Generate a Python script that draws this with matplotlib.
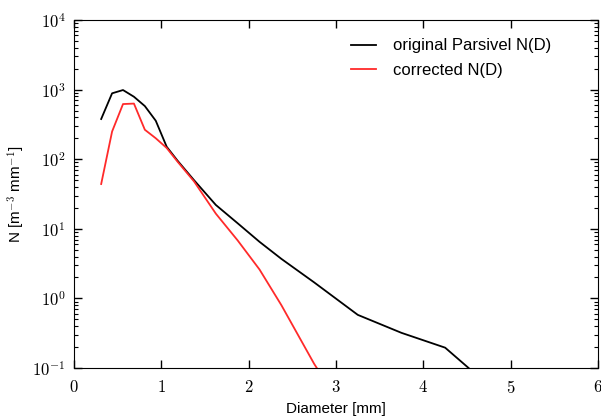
import math
import matplotlib
matplotlib.use('Agg')
import matplotlib.pyplot as plt
from matplotlib.ticker import FuncFormatter, LogLocator, NullFormatter

plt.rcParams['font.family'] = ['Liberation Sans', 'DejaVu Sans']
plt.rcParams['mathtext.fontset'] = 'cm'

# Parsivel bin centres [mm]
diam = [0.312, 0.437, 0.562, 0.687, 0.812, 0.937, 1.062, 1.187, 1.375,
        1.625, 1.875, 2.125, 2.375, 2.75, 3.25, 3.75, 4.25, 4.75]
nd_orig = [378, 885, 986, 790, 580, 357, 151, 95, 50,
           22, 12, 6.5, 3.7, 1.7, 0.58, 0.32, 0.196, 0.056]
nd_corr = [44, 250, 620, 630, 265, 200, 145, 92, 48,
           16.5, 6.8, 2.6, 0.8, 0.115, 0.012, 0.002, 0.0005, 0.0001]

fig = plt.figure(figsize=(6.01, 4.17), dpi=100)
ax = fig.add_axes([0.123, 0.1175, 0.872, 0.8345])

ax.plot(diam, nd_orig, color='k', lw=1.3, label='original Parsivel N(D)')
ax.plot(diam, nd_corr, color='#ff2a2a', lw=1.3, label='corrected N(D)')

ax.set_yscale('log')
ax.set_xlim(0, 6)
ax.set_ylim(0.1, 1e4)

ax.xaxis.set_major_formatter(FuncFormatter(lambda v, p: '$%d$' % v))
ax.yaxis.set_major_formatter(FuncFormatter(lambda v, p: '$10^{%d}$' % round(math.log10(v))))
ax.yaxis.set_minor_locator(LogLocator(base=10, subs=range(2, 10)))
ax.yaxis.set_minor_formatter(NullFormatter())

ax.tick_params(which='both', direction='in', top=True, right=True, labelsize=12)
ax.tick_params(which='major', length=6, width=1)
ax.tick_params(which='minor', length=3, width=0.8)
ax.tick_params(axis='x', pad=8)
ax.tick_params(axis='y', pad=6)

ax.set_xlabel('Diameter [mm]', fontsize=11)
ax.set_ylabel('N [m$^{-3}$ mm$^{-1}$]', fontsize=11)

ax.legend(loc='upper left', bbox_to_anchor=(0.50, 0.99), frameon=False,
          fontsize=12, handlelength=1.5, handletextpad=1.0, labelspacing=0.55)

fig.savefig('out.png', dpi=100)
